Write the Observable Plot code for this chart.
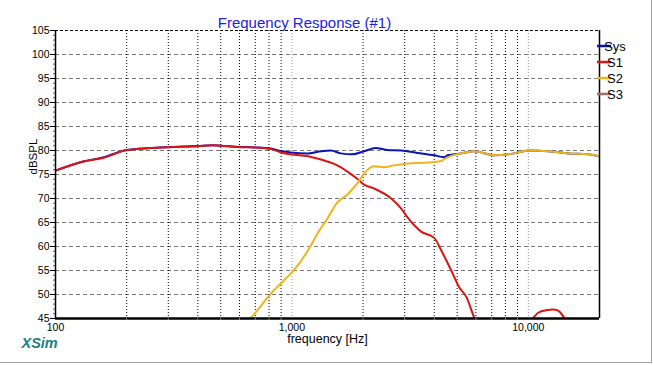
<!DOCTYPE html>
<html>
<head>
<meta charset="utf-8">
<script src="https://cdn.jsdelivr.net/npm/d3@7"></script>
<script src="https://cdn.jsdelivr.net/npm/@observablehq/plot@0.6"></script>
<style>
  html, body { margin: 0; padding: 0; background: white; }
  #wrap { position: relative; width: 653px; height: 365px; }
  #border { position: absolute; left: 0; top: 0; width: 651px; height: 362px;
            border-right: 1px solid #a0a0a0; border-bottom: 1px solid #a0a0a0; pointer-events: none; }
</style>
</head>
<body>
<div id="wrap"><div id="border"></div></div>
<script>
// ---- data ----
const seriesNames = ["Sys", "S1", "S2", "S3"];
const seriesColors = ["#0c14b4", "#dc1414", "#f0b41e", "#a0706a"];

const sysFreq = [100, 131, 160, 200, 250, 300, 400, 460, 500, 600, 700, 815, 900, 990, 1170, 1330, 1460, 1610, 1800, 2020, 2260, 2540, 2900, 3400, 4000, 4400, 4560, 5200, 5900, 7180, 8720, 10000, 12160, 14770, 17930, 20000];
const sysDb   = [75.8, 77.7, 78.6, 80.1, 80.5, 80.7, 80.95, 81.1, 81.0, 80.75, 80.65, 80.4, 79.9, 79.6, 79.4, 79.85, 80.0, 79.4, 79.2, 79.85, 80.5, 80.1, 80.0, 79.5, 79.0, 78.6, 79.0, 79.4, 79.85, 79.0, 79.4, 80.0, 79.85, 79.4, 79.2, 78.75];

const s1Freq = [100, 131, 160, 200, 250, 300, 400, 460, 500, 600, 700, 815, 900, 990, 1170, 1370, 1510, 1730, 1900, 2020, 2220, 2630, 2900, 3090, 3520, 4000, 4280, 4720, 5100, 5480, 5900, 6050, null, 10300, 10600, 11350, 12760, 13300, 14060, 14400];
const s1Db   = [75.8, 77.7, 78.5, 80.1, 80.5, 80.7, 80.9, 81.1, 81.0, 80.7, 80.6, 80.3, 79.6, 79.2, 78.8, 77.9, 77.2, 75.5, 74.0, 72.9, 72.1, 70.0, 67.9, 66.0, 63.1, 61.8, 59.2, 55.0, 51.5, 49.4, 45.2, 44.0, null, 44.3, 45.4, 46.5, 46.9, 46.7, 45.4, 44.3];

const s2Freq = [640, 684, 750, 815, 898, 990, 1070, 1170, 1290, 1420, 1540, 1730, 1900, 2020, 2220, 2450, 2700, 3090, 3770, 4280, 4400, 5050, 5200, 5900, 7180, 8720, 10000, 12160, 14770, 17930, 20000];
const s2Db   = [44.2, 45.6, 48.0, 50.2, 52.3, 54.4, 56.4, 59.2, 62.9, 66.0, 68.9, 71.0, 73.3, 75.2, 76.7, 76.5, 76.9, 77.3, 77.5, 77.8, 78.2, 79.3, 79.4, 79.85, 79.0, 79.4, 80.0, 79.85, 79.4, 79.2, 78.75];

const s3Freq = [];
const s3Db = [];

const yTicks = [45, 50, 55, 60, 65, 70, 75, 80, 85, 90, 95, 100, 105];
const xTickLabels = [100, 1000, 10000];
const minorFreqs = [200, 300, 400, 500, 600, 700, 800, 900, 2000, 3000, 4000, 5000, 6000, 7000, 8000, 9000];
const decadeFreqs = [1000, 10000];

const titleText = "Frequency Response (#1)";
const xLabel = "frequency [Hz]";
const yLabel = "dBSPL";
const brand = "XSim";

// ---- build tables ----
const toRows = (fs, ds) => fs.map((f, i) => ({f: f == null ? NaN : f, db: ds[i] == null ? NaN : ds[i]}));
const sysRows = toRows(sysFreq, sysDb);
const s1Rows = toRows(s1Freq, s1Db);
const s2Rows = toRows(s2Freq, s2Db);
const s3Rows = toRows(s3Freq, s3Db);

const font = "'Liberation Sans', Arial, sans-serif";
const mL = 55, mR = 54, mT = 30, mB = 47, W = 653, H = 365;

const plot = Plot.plot({
  width: W, height: H,
  marginLeft: mL, marginRight: mR, marginTop: mT, marginBottom: mB,
  style: {fontFamily: font, fontSize: "10.5px", background: "white", color: "black"},
  x: {type: "log", domain: [100, 20000]},
  y: {domain: [45, 105]},
  marks: [
    // grid
    Plot.ruleY(yTicks.filter(d => d > 45 && d < 105), {stroke: "#7a7a7a", strokeDasharray: "4,3", strokeWidth: 1}),
    Plot.ruleX(minorFreqs, {stroke: "#000", strokeDasharray: "1,2", strokeWidth: 1}),
    Plot.ruleX(decadeFreqs, {stroke: "#909090", strokeDasharray: "1,2", strokeWidth: 1}),
    Plot.ruleY([105], {stroke: "#000", strokeDasharray: "3,2", strokeWidth: 1}),
    // data
    Plot.line(sysRows, {x: "f", y: "db", stroke: seriesColors[0], strokeWidth: 2, clip: true, curve: "monotone-x"}),
    Plot.line(s1Rows, {x: "f", y: "db", stroke: seriesColors[1], strokeWidth: 2, clip: true, curve: "monotone-x"}),
    Plot.line(s2Rows, {x: "f", y: "db", stroke: seriesColors[2], strokeWidth: 2, clip: true, curve: "monotone-x"}),
    Plot.line(s3Rows, {x: "f", y: "db", stroke: seriesColors[3], strokeWidth: 2, clip: true}),
    // frame
    Plot.ruleX([100], {stroke: "#000", strokeWidth: 1.5}),
    Plot.ruleX([20000], {stroke: "#000", strokeWidth: 1.5}),
    Plot.ruleY([45], {stroke: "#000", strokeWidth: 2.5}),
    // axes
    Plot.axisY(d3.range(45, 106, 1), {tickSize: 2, tickFormat: () => "", label: null, stroke: "#555"}),
    Plot.axisY(yTicks, {tickSize: 5, tickPadding: 1, label: null, fontSize: 10.5}),
    Plot.axisX(minorFreqs, {tickSize: 2, tickFormat: () => "", label: null, stroke: "#888"}),
    Plot.axisX(xTickLabels, {tickSize: 0, tickPadding: 5, tickFormat: d3.format(","), label: null, fontSize: 10.5}),
    // texts
    Plot.text([titleText], {frameAnchor: "top", dy: -13, dx: -23, fill: "#2222dd", fontSize: 15}),
    Plot.text([yLabel], {frameAnchor: "left", dx: -22, rotate: -90, fontSize: 11.5, fill: "black"}),
    Plot.text([xLabel], {frameAnchor: "bottom", dy: 24, fontSize: 12.5, fill: "black"}),
    Plot.text([brand], {frameAnchor: "bottom-left", dx: -34, dy: 29, textAnchor: "start", fontSize: 14.5, fontWeight: "bold", fontStyle: "italic", fill: "#1a7f80"})
  ]
});

// legend
const svg = d3.select(plot);
const lx = W - mR - 2;
seriesNames.forEach((name, i) => {
  const y = 46 + i * 16;
  svg.append("line").attr("x1", lx).attr("x2", lx + 14).attr("y1", y).attr("y2", y)
    .attr("stroke", seriesColors[i]).attr("stroke-width", 2.5);
  svg.append("text").attr("x", lx + 18).attr("y", y).attr("dy", "0.35em")
    .attr("font-family", font).attr("font-size", 13).attr("fill", "black").text(name);
});

document.getElementById("wrap").prepend(plot);
</script>
</body>
</html>
